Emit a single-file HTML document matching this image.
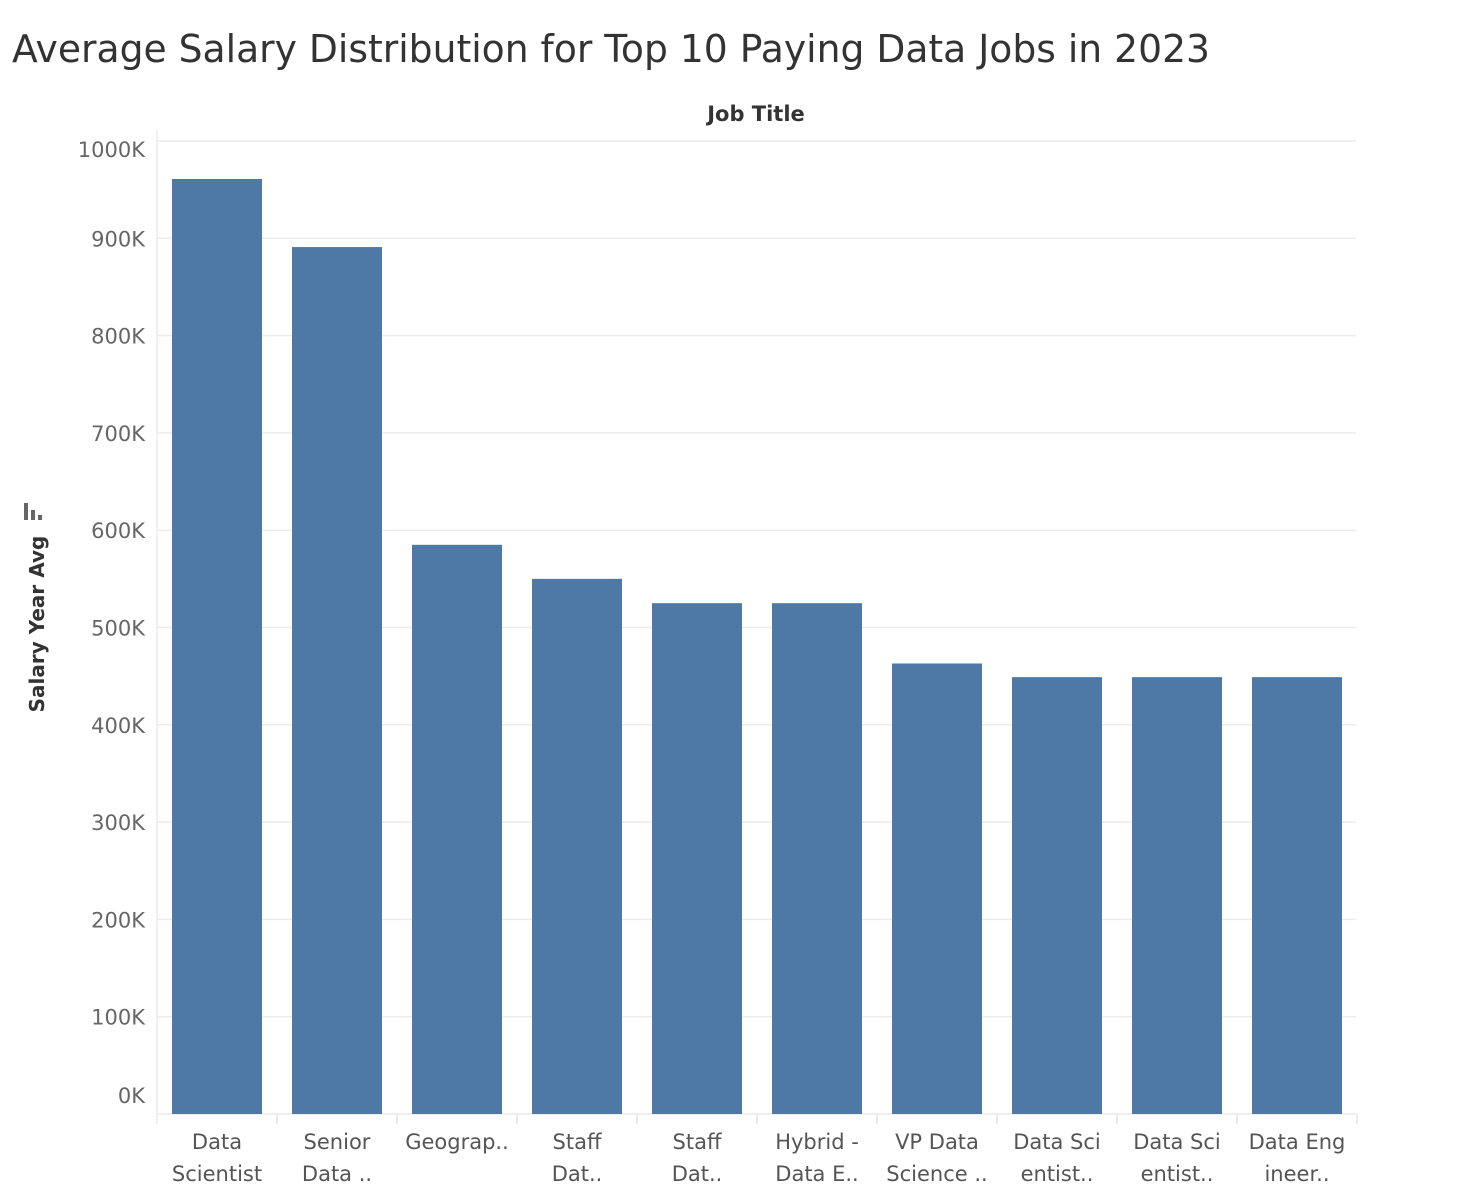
<!DOCTYPE html>
<html><head><meta charset="utf-8"><style>
body{margin:0;background:#fff;width:1474px;height:1198px;overflow:hidden;font-family:"DejaVu Sans","Liberation Sans",sans-serif}
</style></head><body>
<svg id="chart" width="1474" height="1198" xmlns="http://www.w3.org/2000/svg">
<text x="12" y="62" font-size="38" fill="#333" font-family="DejaVu Sans, sans-serif" textLength="1198" lengthAdjust="spacingAndGlyphs">Average Salary Distribution for Top 10 Paying Data Jobs in 2023</text>
<text x="756" y="121" font-size="21" font-weight="bold" fill="#333" text-anchor="middle">Job Title</text>
<text transform="translate(44,624) rotate(-90)" font-size="20" font-weight="bold" fill="#333" text-anchor="middle">Salary Year Avg</text>
<g fill="#666"><rect x="24" y="503" width="4" height="17"/><rect x="31" y="510" width="4" height="10"/><rect x="38" y="515" width="4" height="5"/></g>
<g id="grid"></g><g id="bars"></g><g id="labels"></g>
</svg>
<script>
const categories=[["Data","Scientist"],["Senior","Data .."],["Geograp..",""],["Staff","Dat.."],["Staff","Dat.."],["Hybrid -","Data E.."],["VP Data","Science .."],["Data Sci","entist.."],["Data Sci","entist.."],["Data Eng","ineer.."]];
const salaries=[961000,891000,585000,550000,525000,525000,463000,449000,449000,449000];
const ticks=[0,100000,200000,300000,400000,500000,600000,700000,800000,900000,1000000];
const tickLabels=["0K","100K","200K","300K","400K","500K","600K","700K","800K","900K","1000K"];
const NS="http://www.w3.org/2000/svg";
const x0=157,colW=120,barW=90,yBase=1114,pxPer=0.973/1000;
const y=v=>yBase-v*pxPer;
function mk(t,a,p){const e=document.createElementNS(NS,t);for(const k in a)e.setAttribute(k,a[k]);p.appendChild(e);return e;}
const grid=document.getElementById('grid'),bars=document.getElementById('bars'),labels=document.getElementById('labels');
ticks.forEach((t,i)=>{
 const l=mk('line',{x1:x0,x2:1356,y1:y(t),y2:y(t),stroke:'#ececec','stroke-width':1.5},grid);
 
 
 let ly=y(t)+8;
 if(i===0)ly=y(t)-11;
 if(i===ticks.length-1)ly=y(t)+16;
 const tx=mk('text',{x:145,y:ly,'font-size':21,fill:'#666','text-anchor':'end'},grid);
 tx.textContent=tickLabels[i];
 
 
});
mk('line',{x1:x0,x2:x0,y1:130,y2:1124,stroke:'#ececec','stroke-width':1.5},grid);
salaries.forEach((v,i)=>{
 const cx=x0+colW*i+colW/2;
 const r=mk('rect',{x:cx-barW/2,y:y(v),width:barW,height:yBase-y(v),fill:'#4e79a7'},bars);
 
 
 const s=mk('line',{x1:x0+colW*(i+1),x2:x0+colW*(i+1),y1:yBase,y2:1124,stroke:'#e6e6e6','stroke-width':1.5},grid);
 
 
 categories[i].forEach((ln,j)=>{
  const t=mk('text',{x:cx,y:1149+j*32,'font-size':21,fill:'#555','text-anchor':'middle'},labels);
  t.textContent=ln;
  
  
 });
});
</script>
</body></html>
